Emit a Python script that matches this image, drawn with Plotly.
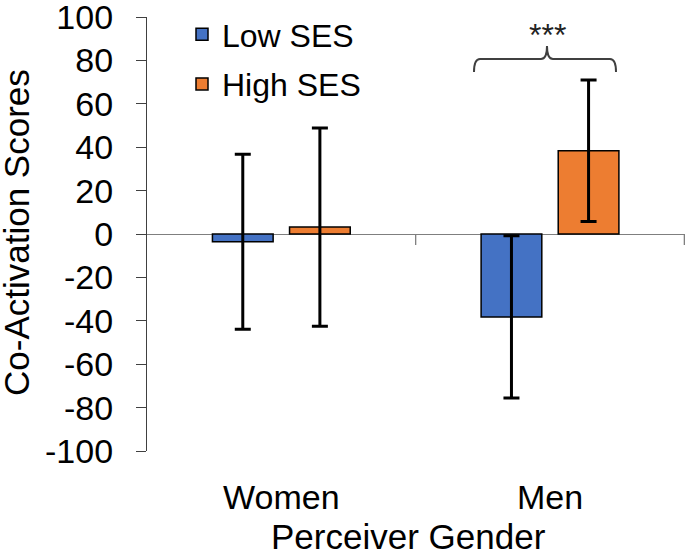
import plotly.graph_objects as go

categories = ["Women", "Men"]
low_ses = [-3.6, -38.2]
high_ses = [3.2, 38.4]
low_err = [40.3, 37.4]
high_err = [45.7, 32.6]
y_ticks = [-100, -80, -60, -40, -20, 0, 20, 40, 60, 80, 100]
y_tick_text = ["-100", "-80", "-60", "-40", "-20", "0", "20", "40", "60", "80", "100"]

W, H = 685, 558
L, R, T, B = 147, 0, 17, 107
PW, PH = W - L - R, H - T - B

def px(x):
    return (x - L) / PW

def py(y):
    return (H - B - y) / PH

FONT = "Liberation Sans, Arial, sans-serif"

fig = go.Figure()
fig.add_trace(go.Bar(
    x=categories, y=low_ses, name="Low SES", legendgroup="a",
    marker=dict(color="#4472C4", line=dict(color="black", width=1.5)),
    error_y=dict(type="data", array=low_err, color="black", thickness=3, width=8),
))
fig.add_trace(go.Bar(
    x=categories, y=high_ses, name="High SES", legendgroup="b",
    marker=dict(color="#ED7D31", line=dict(color="black", width=1.5)),
    error_y=dict(type="data", array=high_err, color="black", thickness=3, width=8),
))

shapes = []
for xb in [0.5, 1.5]:
    shapes.append(dict(type="line", xref="x", yref="y", ysizemode="pixel", yanchor=0,
                       x0=xb, x1=xb, y0=0, y1=-11, line=dict(color="#7f7f7f", width=1.3)))

# brace
pts = [(474, 72), (474, 59), (480, 59), (541, 59), (547, 59), (547, 46),
       (547, 59), (553, 59), (610, 59), (616, 59), (616, 72)]
def P(p):
    return f"{px(p[0]):.5f},{py(p[1]):.5f}"
path = (f"M {P(pts[0])} Q {P(pts[1])} {P(pts[2])} L {P(pts[3])} Q {P(pts[4])} {P(pts[5])} "
        f"Q {P(pts[6])} {P(pts[7])} L {P(pts[8])} Q {P(pts[9])} {P(pts[10])}")
shapes.append(dict(type="path", xref="paper", yref="paper", path=path,
                   line=dict(color="#404040", width=2)))

annotations = [
    dict(text="***", x=px(547), y=py(15), xref="paper", yref="paper", showarrow=False,
         xanchor="center", yanchor="top", font=dict(size=32, color="#222", family=FONT)),
    dict(text="Co-Activation Scores", x=px(17), y=py(233), xref="paper", yref="paper",
         showarrow=False, textangle=-90, xanchor="center", yanchor="middle",
         font=dict(size=35, color="black", family=FONT)),
    dict(text="Perceiver Gender", x=px(408), y=py(558), xref="paper", yref="paper",
         showarrow=False, xanchor="center", yanchor="bottom",
         font=dict(size=35, color="black", family=FONT)),
]

fig.update_layout(
    width=W, height=H,
    margin=dict(l=L, r=R, t=T, b=B, pad=0),
    paper_bgcolor="white", plot_bgcolor="white",
    barmode="group", bargap=0.426, bargroupgap=0.213,
    font=dict(family=FONT, color="black"),
    showlegend=True,
    legend=dict(x=px(182), y=py(7), xanchor="left", yanchor="top",
                font=dict(size=32, family=FONT, color="black"),
                tracegroupgap=5, bgcolor="rgba(0,0,0,0)", traceorder="grouped"),
    shapes=shapes, annotations=annotations,
    xaxis=dict(showline=False, ticks="", showgrid=False, zeroline=False,
               tickfont=dict(size=34, family=FONT, color="black"),
               ticklabelstandoff=23, automargin=False),
    yaxis=dict(range=[-100, 100], tickvals=y_ticks, ticktext=y_tick_text, showgrid=False,
               showline=True, linecolor="#404040", linewidth=1.3,
               ticks="outside", ticklen=10, tickcolor="#404040", tickwidth=1.3,
               zeroline=True, zerolinecolor="#7f7f7f", zerolinewidth=1.3,
               tickfont=dict(size=34, family=FONT, color="black"),
               ticklabelstandoff=16, automargin=False, ticklabeloverflow="allow"),
)

fig.write_html("out.html", config={"displayModeBar": False},
               post_script="document.body.style.margin='0px';")
